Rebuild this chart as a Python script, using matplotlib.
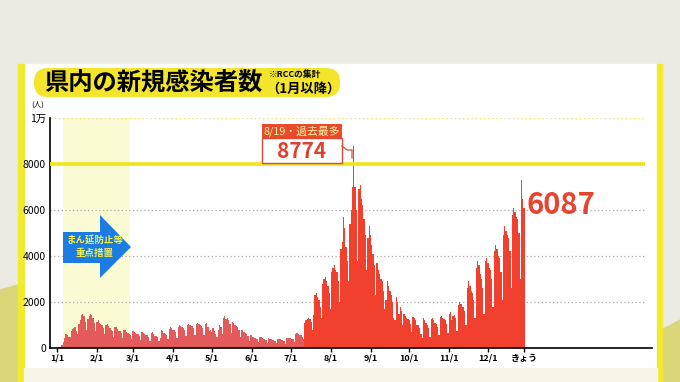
import numpy as np
import matplotlib
matplotlib.use("Agg")
import matplotlib.pyplot as plt
from matplotlib.patches import FancyBboxPatch, Rectangle, Polygon

plt.rcParams["font.family"] = ["Noto Sans CJK JP", "DejaVu Sans"]

# daily new cases, Jan 1 (Sat) .. Dec 29, one row per week
cases = [
    20, 30, 40, 60, 140, 270, 430,
    620, 580, 500, 460, 720, 830, 850,
    900, 760, 620, 1050, 1200, 1450, 1500,
    1400, 1150, 800, 1250, 1400, 1500, 1450,
    1300, 1100, 760, 1150, 1200, 1100, 1050,
    1000, 880, 600, 1000, 1050, 950, 850,
    800, 750, 480, 900, 900, 820, 760,
    720, 650, 420, 800, 780, 700, 650,
    600, 560, 380, 720, 700, 650, 620,
    600, 520, 350, 680, 650, 600, 560,
    560, 500, 320, 640, 700, 620, 540,
    520, 480, 300, 450, 780, 720, 650,
    620, 560, 380, 820, 900, 850, 800,
    780, 700, 450, 900, 1000, 950, 900,
    880, 800, 520, 1000, 1050, 1000, 950,
    950, 850, 550, 1050, 1100, 1050, 1000,
    950, 880, 560, 1050, 1100, 900, 750,
    800, 700, 850, 750, 600, 500, 800,
    1000, 900, 600, 1300, 1400, 1250, 1300,
    1200, 1050, 650, 1150, 1100, 1000, 950,
    900, 800, 480, 800, 780, 700, 650,
    600, 520, 320, 560, 560, 500, 450,
    450, 400, 250, 480, 460, 420, 400,
    380, 350, 220, 420, 400, 380, 350,
    340, 300, 200, 380, 400, 370, 350,
    330, 300, 190, 420, 450, 430, 420,
    400, 380, 250, 600, 650, 620, 580,
    560, 500, 400, 1100, 1200, 1250, 1300,
    1250, 1150, 800, 1450, 2300, 2400, 2200,
    2100, 1800, 1300, 2800, 3000, 3100, 2900,
    2700, 2400, 1700, 3300, 3500, 3600, 3400,
    3300, 2900, 2000, 4300, 4600, 5700, 5200,
    4400, 3800, 2900, 5400, 6000, 7000, 8774,
    7000, 6000, 3800, 6900, 7100, 6500, 6200,
    5600, 4900, 3400, 4800, 5300, 4900, 4500,
    4100, 3600, 2300, 3700, 3400, 3200, 3000,
    2900, 2500, 1700, 2100, 2900, 2700, 2500,
    2300, 2000, 1300, 1200, 2200, 2000, 1500,
    1800, 1600, 1000, 1500, 1400, 1300, 1250,
    1200, 1050, 700, 1350, 1300, 1200, 1000,
    1000, 850, 600, 450, 1300, 1200, 1100,
    1000, 850, 500, 1250, 1300, 1200, 1100,
    1050, 900, 550, 1350, 1400, 1300, 1250,
    1200, 1050, 650, 1500, 1550, 1200, 1400,
    1450, 1300, 750, 1850, 2000, 1900, 1800,
    1800, 1600, 1000, 2600, 2900, 2700, 2500,
    2400, 2100, 1300, 3500, 3800, 3600, 3200,
    3000, 2600, 1500, 3800, 3900, 3700, 3500,
    3400, 3000, 1800, 4200, 4500, 4300, 4000,
    3900, 3300, 2100, 4900, 5300, 5100, 4900,
    4800, 4200, 2600, 5800, 6100, 5900, 5700,
    5600, 5000, 3000, 7300, 6500, 6087,
]
month_labels = ["1/1", "2/1", "3/1", "4/1", "5/1", "6/1", "7/1",
                "8/1", "9/1", "10/1", "11/1", "12/1", "きょう"]
month_days = [0, 31, 59, 90, 120, 151, 181, 212, 243, 273, 304, 334, 362]
y_ticks = [0, 2000, 4000, 6000, 8000, 10000]
y_labels = ["0", "2000", "4000", "6000", "8000", "1万"]
peak_label = "8/19・過去最多"
peak_value = "8774"
today_value = "6087"

W, H = 680, 382
days = np.arange(len(cases))
cases = np.array(cases)

fig = plt.figure(figsize=(W / 100, H / 100), dpi=100)

# background layer in pixel coords
bg = fig.add_axes([0, 0, 1, 1], zorder=0)
bg.set_xlim(0, W)
bg.set_ylim(H, 0)
bg.axis("off")
bg.add_patch(Rectangle((0, 0), W, H, color="#ebeae3"))
bg.add_patch(Polygon([(0, 290), (18, 285), (18, 382), (0, 382)], color="#dcd67a"))
bg.add_patch(Polygon([(662, 330), (680, 320), (680, 382), (662, 382)], color="#dcd67a"))
bg.add_patch(Rectangle((24, 64), 633, 318, color="white"))
bg.add_patch(Rectangle((18, 64), 6, 318, color="#f2ea2e"))
bg.add_patch(Rectangle((657, 64), 5, 318, color="#f2ea2e"))
bg.add_patch(Rectangle((24, 368), 633, 14, color="#f7f6e6"))

# main chart
ax = fig.add_axes([50 / W, 1 - 348 / H, 602 / W, 230 / H], zorder=1)
ax.set_facecolor("none")
x0 = -5.4
ax.set_xlim(x0, 461.1)
ax.set_ylim(0, 10000)

ax.axvspan(5, 56.5, ymax=1, color="#fcfcd4", lw=0, zorder=0)

grid_end = 455.6
ax.hlines([2000, 4000, 6000], x0, grid_end, colors="#aaaaaa", linestyles=(0, (1, 2)), lw=0.9, zorder=1)
ax.hlines(10000, x0, grid_end, colors="#e8e070", linestyles=(0, (1, 2)), lw=1.0, zorder=1)

early = days < 192
ax.bar(days[early], cases[early], width=1.0, color="#e25a5a", lw=0, zorder=2)
ax.bar(days[~early], cases[~early], width=1.0, color="#f2402e", lw=0, zorder=2)

ax.hlines(8000, x0, grid_end, colors="#f0e41e", lw=2.6, zorder=3)

for s in ["top", "right"]:
    ax.spines[s].set_visible(False)
ax.spines["left"].set_linewidth(1.2)
ax.spines["bottom"].set_linewidth(1.2)
ax.set_yticks(y_ticks)
ax.set_yticklabels(y_labels, fontsize=7.5, family=["Liberation Sans Narrow", "Noto Sans CJK JP"])
ax.tick_params(axis="y", length=0, pad=3)
ax.set_xticks(month_days)
ax.set_xticklabels(month_labels, fontsize=6.5, fontweight="bold")
ax.tick_params(axis="x", length=3, width=1, direction="out", pad=1)

# foreground annotations in pixel coords
fg = fig.add_axes([0, 0, 1, 1], zorder=3)
fg.set_xlim(0, W)
fg.set_ylim(H, 0)
fg.axis("off")

fg.add_patch(FancyBboxPatch((34, 68), 306, 29, boxstyle="round,pad=0,rounding_size=14",
                            color="#f2e52c", lw=0))
fg.text(44, 83, "県内の新規感染者数", fontsize=17.5, fontweight="bold", va="center", ha="left")
fg.text(269, 75, "※RCCの集計", fontsize=6.3, fontweight="bold", va="center", ha="left")
fg.text(266, 89, "（1月以降）", fontsize=9.5, fontweight="bold", va="center", ha="left")
fg.text(38, 105, "(人)", fontsize=5.5, va="center", ha="center")

# blue arrow
fg.add_patch(Polygon([(63, 232), (100, 232), (100, 215), (131, 247),
                      (100, 278), (100, 263), (63, 263)], color="#1c7ce2", lw=0))
fg.text(95, 240, "まん延防止等", fontsize=6.8, fontweight="bold", color="#f4f048",
        ha="center", va="center")
fg.text(95, 253, "重点措置", fontsize=6.8, fontweight="bold", color="#f4f048",
        ha="center", va="center")

# peak callout
fg.add_patch(Rectangle((262, 124), 80, 14, color="#e84a2a", lw=0))
fg.text(302, 131, peak_label, fontsize=7.8, color="#fff4a0", ha="center", va="center")
fg.add_patch(Rectangle((262, 138), 80, 25, facecolor="white", edgecolor="#d84a3a", lw=1.0))
fg.text(302, 151, peak_value, fontsize=15, fontweight="bold", color="#e0402e",
        ha="center", va="center")
fg.plot([342, 347, 352, 352], [146, 150, 150, 158], color="#d84a3a", lw=0.9)

fg.text(527, 205, today_value, fontsize=21, fontweight="bold", color="#e8432e",
        ha="left", va="center")

fig.savefig("out.png", dpi=100)
